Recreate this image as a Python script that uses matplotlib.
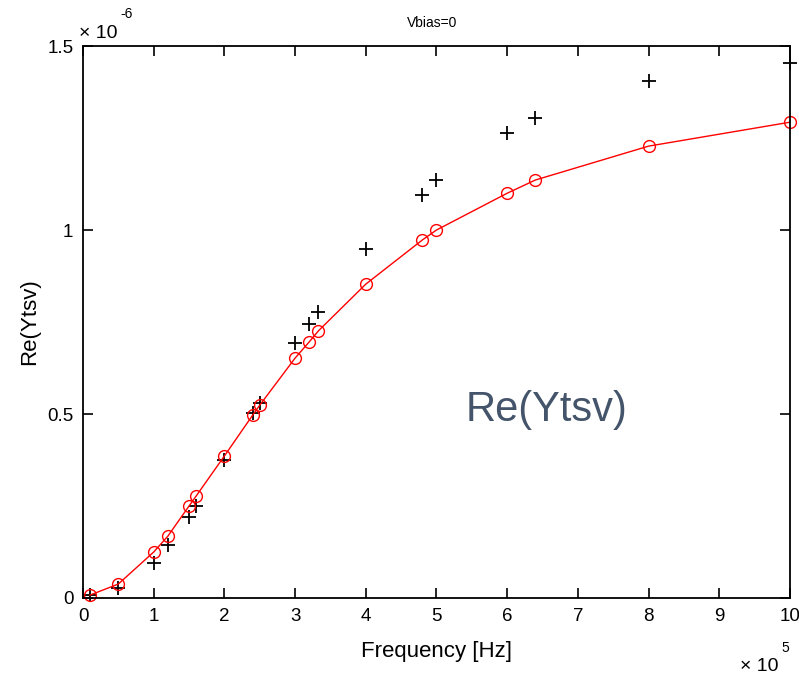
import numpy as np
import matplotlib.pyplot as plt

plt.rcParams['font.family'] = ['Liberation Sans', 'DejaVu Sans']

# frequency points [Hz]
freq = np.array([0.1, 0.5, 1.0, 1.2, 1.5, 1.6, 2.0, 2.4, 2.5, 3.0, 3.2, 3.33,
                 4.0, 4.8, 5.0, 6.0, 6.4, 8.0, 10.0]) * 1e5

# measured Re(Ytsv) [S]
meas = np.array([0.008, 0.027, 0.095, 0.144, 0.220, 0.250, 0.375, 0.503, 0.530,
                 0.693, 0.745, 0.777, 0.948, 1.095, 1.136, 1.264, 1.304, 1.405,
                 1.454]) * 1e-6

# fitted model Re(Ytsv) [S]
model = np.array([0.008, 0.038, 0.125, 0.168, 0.250, 0.277, 0.386, 0.497, 0.524,
                  0.652, 0.696, 0.726, 0.853, 0.973, 1.000, 1.100, 1.136, 1.228,
                  1.293]) * 1e-6

fig = plt.figure(figsize=(7.99, 6.77), dpi=100)
ax = fig.add_axes([0.1039, 0.1167, 0.8848, 0.8153])

xs = freq / 1e5
ax.plot(xs, meas * 1e6, '+', color='black', markersize=10, markeredgewidth=1.3,
        clip_on=False)
ax.plot(xs, model * 1e6, '-o', color='red', linewidth=1.0, markersize=8.5,
        markerfacecolor='none', markeredgewidth=1.0, clip_on=False)

ax.set_xlim(0, 10)
ax.set_ylim(0, 1.5)
ax.set_xticks(range(11))
ax.set_yticks([0, 0.5, 1, 1.5], labels=['0', '0.5', '1', '1.5'])
ax.tick_params(direction='in', top=True, right=True, length=7, width=1.2,
               labelsize=13.5, colors='black', pad=7)
for s in ax.spines.values():
    s.set_linewidth(1.3)

ax.set_xlabel('Frequency [Hz]', fontsize=16, labelpad=12)
ax.set_ylabel('Re(Ytsv)', fontsize=16, labelpad=5)
ax.text(0.494, 1.042, 'Vbias=0', transform=ax.transAxes, ha='center', va='center', fontsize=10)

# offset (exponent) labels in MATLAB style
ax.text(-0.005, 1.022, '× 10', transform=ax.transAxes, ha='left', va='center', fontsize=14)
ax.text(0.053, 1.058, '-6', transform=ax.transAxes, ha='left', va='center', fontsize=10)
ax.text(0.929, -0.124, '× 10', transform=ax.transAxes, ha='left', va='center', fontsize=14)
ax.text(0.988, -0.091, '5', transform=ax.transAxes, ha='left', va='center', fontsize=10)

ax.text(6.56, 0.51, 'Re(Ytsv)', fontsize=30, color='#44546a', ha='center', va='center')

fig.savefig('out.png', dpi=100)
